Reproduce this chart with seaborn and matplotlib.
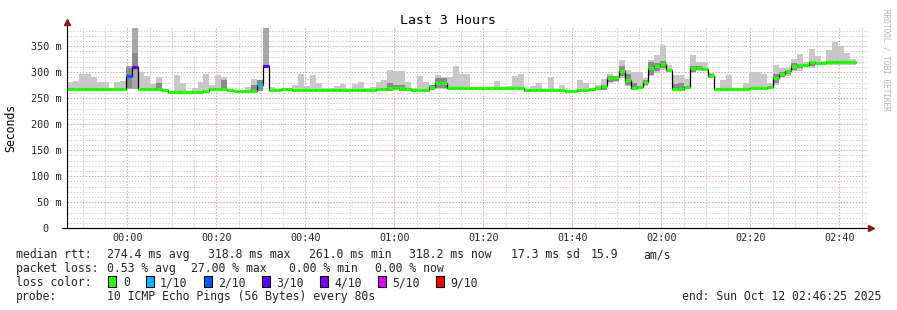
import numpy as np
import pandas as pd
import matplotlib
matplotlib.use("Agg")
import matplotlib.pyplot as plt
import matplotlib.dates as mdates
import matplotlib.ticker as mticker
from matplotlib.patches import Rectangle
import seaborn as sns

# ---------------- data (ms), one value per 80 s probe step ----------------
start_time = "2025-10-11 23:46:25"
end_time = "2025-10-12 02:46:25"
step_seconds = 80

median_ms = [
    267, 267, 267, 267, 267, 267, 267, 267, 267, 267,
    293, 310, 267, 267, 267, 267, 266, 262, 262, 262,
    262, 262, 262, 264, 268, 268, 268, 266, 264, 264,
    264, 264, 276, 311, 265, 265, 267, 267, 266, 266,
    266, 266, 266, 266, 266, 266, 266, 266, 266, 266,
    266, 266, 267, 267, 269, 269, 269, 268, 266, 266,
    266, 272, 280, 280, 269, 269, 269, 269, 269, 269,
    269, 269, 269, 269, 269, 269, 269, 265, 265, 265,
    265, 265, 265, 265, 263, 263, 265, 265, 268, 269,
    273, 289, 290, 303, 285, 270, 272, 282, 309, 311,
    316, 304, 267, 267, 271, 308, 308, 306, 292, 268,
    268, 268, 267, 267, 267, 269, 269, 269, 272, 288,
    296, 303, 311, 313, 314, 320, 317, 317, 320, 320,
    320, 320, 320,
]

smoke_hi = [
    282, 283, 296, 296, 290, 282, 281, 270, 281, 283,
    311, 385, 301, 293, 277, 291, 268, 264, 294, 280,
    264, 270, 282, 297, 275, 294, 291, 268, 266, 266,
    271, 287, 285, 385, 271, 266, 268, 268, 276, 297,
    274, 295, 280, 269, 269, 274, 278, 267, 278, 282,
    269, 271, 282, 285, 304, 303, 303, 282, 270, 292,
    281, 276, 295, 290, 290, 311, 297, 297, 270, 270,
    270, 272, 283, 270, 274, 292, 297, 266, 274, 280,
    266, 290, 266, 276, 264, 264, 285, 280, 270, 276,
    287, 296, 293, 324, 304, 301, 301, 288, 324, 333,
    352, 314, 295, 295, 287, 333, 320, 320, 298, 270,
    285, 295, 268, 268, 280, 301, 301, 297, 280, 314,
    308, 308, 325, 335, 320, 344, 331, 322, 343, 358,
    351, 337, 326,
]

smoke_lo = [
    265, 265, 265, 265, 265, 265, 265, 265, 265, 265,
    267, 267, 265, 265, 265, 265, 264, 260, 260, 260,
    260, 260, 260, 262, 266, 266, 266, 264, 262, 262,
    262, 262, 264, 308, 263, 263, 265, 265, 264, 264,
    264, 264, 264, 264, 264, 264, 264, 264, 264, 264,
    264, 264, 265, 265, 264, 265, 264, 266, 264, 264,
    264, 265, 268, 268, 267, 267, 267, 267, 267, 267,
    267, 267, 267, 267, 267, 267, 267, 263, 263, 263,
    263, 263, 263, 263, 261, 261, 263, 263, 266, 267,
    266, 280, 282, 288, 273, 266, 268, 274, 292, 298,
    304, 300, 265, 265, 268, 298, 302, 302, 288, 266,
    266, 266, 265, 265, 265, 267, 267, 267, 270, 276,
    288, 293, 302, 303, 311, 308, 314, 314, 314, 314,
    314, 314, 314,
]

N = None
inner_lo = [
    N, N, N, N, N, N, N, N, N, N,
    270, 311, N, N, N, 268, N, N, N, N,
    N, N, N, N, N, N, 268, N, N, N,
    N, 264, 264, N, N, N, N, N, N, N,
    N, N, N, N, N, N, N, N, N, N,
    N, N, N, N, 264, 266, 264, N, N, N,
    N, 265, 269, 269, N, N, N, N, N, N,
    N, N, N, N, N, N, N, N, N, N,
    N, N, N, N, N, N, N, N, N, N,
    266, 282, 284, 292, 276, 266, N, 276, 295, 302,
    308, N, 268, 268, N, 300, 304, 302, 290, N,
    N, N, N, N, N, N, N, N, N, 280,
    290, 296, 304, 308, N, 312, 314, N, 316, N,
    N, N, N,
]
inner_hi = [
    N, N, N, N, N, N, N, N, N, N,
    308, 336, N, N, N, 280, N, N, N, N,
    N, N, N, N, N, N, 285, N, N, N,
    N, 275, 285, N, N, N, N, N, N, N,
    N, N, N, N, N, N, N, N, N, N,
    N, N, N, N, 280, 275, 275, N, N, N,
    N, 276, 288, 288, N, N, N, N, N, N,
    N, N, N, N, N, N, N, N, N, N,
    N, N, N, N, N, N, N, N, N, N,
    276, 292, 292, 312, 296, 280, N, 286, 320, 318,
    322, N, 278, 280, N, 312, 312, 308, 296, N,
    N, N, N, N, N, N, N, N, N, 296,
    300, 305, 318, 316, N, 320, 320, N, 322, N,
    N, N, N,
]

# lost pings (out of 10) per step
loss_tenths = [0] * 133
loss_tenths[10] = 2
loss_tenths[11] = 3
loss_tenths[32] = 1
loss_tenths[33] = 3

loss_levels = ["0", "1/10", "2/10", "3/10", "4/10", "5/10", "9/10"]
loss_level_values = [0, 1, 2, 3, 4, 5, 9]
loss_level_colors = ["#26ff00", "#00b8ff", "#0059ff", "#5e00ff", "#7e00ff", "#dd00ff", "#ff0000"]

y_ticks = [0, 50, 100, 150, 200, 250, 300, 350]

# ---------------- figure ----------------
W, H = 897, 310
sns.set_theme(style="white")
plt.rcParams["font.family"] = ["DejaVu Sans Mono", "DejaVu Sans"]
plt.rcParams["lines.scale_dashes"] = False

fig = plt.figure(figsize=(W / 100, H / 100), dpi=100, facecolor="white")
ax_left, ax_right, ax_top, ax_bottom = 67, 868, 28, 228.3
ax = fig.add_axes([ax_left / W, 1 - ax_bottom / H, (ax_right - ax_left) / W, (ax_bottom - ax_top) / H])
ax.set_facecolor("white")

times = pd.date_range(start=start_time, periods=len(median_ms), freq=f"{step_seconds}s")
width_days = step_seconds / 86400.0
tnum = mdates.date2num(times.to_pydatetime())

df = pd.DataFrame({
    "time": times,
    "median": median_ms,
    "lo": smoke_lo,
    "hi": smoke_hi,
    "ilo": pd.to_numeric(pd.Series(inner_lo), errors="coerce"),
    "ihi": pd.to_numeric(pd.Series(inner_hi), errors="coerce"),
    "loss": loss_tenths,
})

color_of = dict(zip(loss_level_values, loss_level_colors))

# smoke
outer_cols = ["#a8a8a8" if l > 0 else "#c8c8c8" for l in df["loss"]]
ax.bar(tnum, df["hi"] - df["lo"], bottom=df["lo"], width=width_days, align="edge",
       color=outer_cols, linewidth=0, zorder=2)
inner = df.dropna(subset=["ilo", "ihi"])
ax.bar(mdates.date2num(inner["time"].dt.to_pydatetime()), inner["ihi"] - inner["ilo"], bottom=inner["ilo"],
       width=width_days, align="edge", color="#8a8a8a", linewidth=0, zorder=2.1)

# median black step line
line_df = pd.concat([df[["time", "median"]],
                     pd.DataFrame({"time": [times[-1] + pd.Timedelta(seconds=step_seconds)],
                                   "median": [median_ms[-1]]})], ignore_index=True)
line_df["t"] = mdates.date2num(line_df["time"].dt.to_pydatetime())
sns.lineplot(data=line_df, x="t", y="median", drawstyle="steps-post", color="black",
             linewidth=0.9, ax=ax, zorder=3, estimator=None)

# loss-coloured median segments
seg_cols = [color_of[l] for l in df["loss"]]
ax.hlines(df["median"], tnum, tnum + width_days, colors=seg_cols, linewidth=2.3, zorder=4)

# axes limits
ax.set_xlim(mdates.date2num(pd.Timestamp(start_time).to_pydatetime()),
            mdates.date2num(pd.Timestamp(end_time).to_pydatetime()))
ax.set_ylim(0, 385)

# grid
ax.xaxis.set_major_locator(mdates.MinuteLocator(byminute=[0, 20, 40]))
ax.xaxis.set_minor_locator(mdates.MinuteLocator(byminute=range(0, 60, 5)))
ax.xaxis.set_major_formatter(mdates.DateFormatter("%H:%M"))
ax.yaxis.set_major_locator(mticker.FixedLocator(y_ticks))
ax.yaxis.set_minor_locator(mticker.MultipleLocator(10))
ax.yaxis.set_major_formatter(mticker.FuncFormatter(lambda v, p: "0  " if v == 0 else f"{int(v)} m"))

dots = (0, (1.0, 1.2))
ax.grid(which="minor", color="#cfcfcf", linestyle=dots, linewidth=0.72, zorder=0)
ax.grid(which="major", color="#f39a9a", linestyle=dots, linewidth=0.72, zorder=0)
ax.set_axisbelow(True)

for s in ["top", "right"]:
    ax.spines[s].set_visible(False)
for s in ["left", "bottom"]:
    ax.spines[s].set_color("black")
    ax.spines[s].set_linewidth(0.8)
    ax.spines[s].set_zorder(5)

ax.tick_params(axis="both", which="major", length=2.2, width=0.7, color="black",
               labelsize=7.3, pad=2, direction="out")
ax.tick_params(axis="both", which="minor", length=1.5, width=0.6, color="#444444", direction="out")
ax.tick_params(axis="x", which="major", pad=1.5)
for lab in ax.get_xticklabels() + ax.get_yticklabels():
    lab.set_fontfamily("DejaVu Sans Mono")
ax.set_xlabel("")
ax.set_ylabel("")

# axis extensions + arrows
h_ax = ax_bottom - ax_top
w_ax = ax_right - ax_left
ax.plot([0, 0], [1, 1 + 4 / h_ax], transform=ax.transAxes, color="black", lw=0.8, clip_on=False, zorder=5)
ax.plot([-5 / w_ax, 1 + 2 / w_ax], [0, 0], transform=ax.transAxes, color="black", lw=0.8, clip_on=False, zorder=5)
ax.plot([0], [1 + 6 / h_ax], marker="^", markersize=4.5, color="#8b1a1a", transform=ax.transAxes,
        clip_on=False, zorder=6)
ax.plot([1 + 3 / w_ax], [0], marker=">", markersize=4.5, color="#8b1a1a", transform=ax.transAxes,
        clip_on=False, zorder=6)

# texts
def px(x, y):
    return x / W, 1 - y / H

fs = 8.3
fig.text(*px(448, 20), "Last 3 Hours", ha="center", va="center", fontsize=9.5, color="black")
fig.text(*px(11, 128), "Seconds", rotation=90, ha="center", va="center", fontsize=fs, color="black")
fig.text(*px(886, 60), "RRDTOOL / TOBI OETIKER", rotation=270, ha="center", va="center",
         fontsize=5.6, color="#b4b4b4")

row1 = [(16, "median rtt:"), (107, "274.4 ms avg"), (208, "318.8 ms max"), (309, "261.0 ms min"),
        (409, "318.2 ms now"), (511, "17.3 ms sd"), (591, "15.9"), (643, "am/s")]
row2 = [(16, "packet loss:"), (107, "0.53 % avg"), (191, "27.00 % max"), (289, "0.00 % min"),
        (375, "0.00 % now")]
for x, s in row1:
    fig.text(*px(x, 258), s, ha="left", va="baseline", fontsize=fs)
for x, s in row2:
    fig.text(*px(x, 272), s, ha="left", va="baseline", fontsize=fs)

fig.text(*px(16, 286), "loss color:", ha="left", va="baseline", fontsize=fs)
box_x = [108, 146, 204, 262, 320, 378, 436]
for bx, lab, col in zip(box_x, loss_levels, loss_level_colors):
    fig.patches.append(Rectangle(px(bx, 287), 8 / W, 11 / H, transform=fig.transFigure,
                                 facecolor=col, edgecolor="black", linewidth=0.8))
    fig.text(*px(bx + (15 if lab == "0" else 14), 286), lab, ha="left", va="baseline", fontsize=fs)

fig.text(*px(16, 300), "probe:", ha="left", va="baseline", fontsize=fs)
fig.text(*px(107, 300), "10 ICMP Echo Pings (56 Bytes) every 80s", ha="left", va="baseline", fontsize=fs)
fig.text(*px(881, 300), "end: Sun Oct 12 02:46:25 2025", ha="right", va="baseline", fontsize=fs)

fig.savefig("out.png", dpi=100, facecolor="white")
